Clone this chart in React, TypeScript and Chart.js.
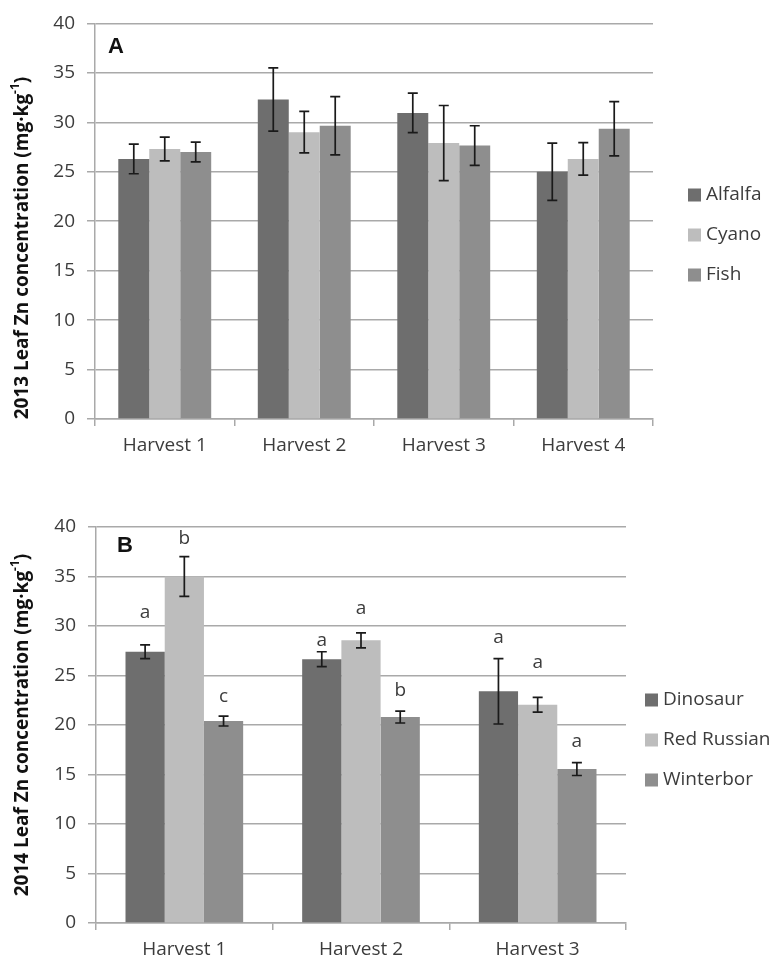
import React, { useEffect, useRef } from "react";
import { Chart, registerables } from "chart.js";

Chart.register(...registerables);

// ---------- Panel A (2013) ----------
const categoriesA = ["Harvest 1", "Harvest 2", "Harvest 3", "Harvest 4"];
const seriesNamesA = ["Alfalfa", "Cyano", "Fish"];
const alfalfaA = [26.3, 32.3, 30.95, 25.0];
const alfalfaErrA = [1.5, 3.2, 2.0, 2.9];
const cyanoA = [27.3, 29.0, 27.9, 26.3];
const cyanoErrA = [1.2, 2.1, 3.8, 1.65];
const fishA = [27.0, 29.65, 27.65, 29.35];
const fishErrA = [1.0, 2.95, 2.0, 2.75];

// ---------- Panel B (2014) ----------
const categoriesB = ["Harvest 1", "Harvest 2", "Harvest 3"];
const seriesNamesB = ["Dinosaur", "Red Russian", "Winterbor"];
const dinosaurB = [27.4, 26.65, 23.4];
const dinosaurErrB = [0.7, 0.75, 3.3];
const redRussianB = [35.0, 28.55, 22.05];
const redRussianErrB = [2.0, 0.75, 0.75];
const winterborB = [20.4, 20.8, 15.55];
const winterborErrB = [0.5, 0.6, 0.65];
const dinosaurLettersB = ["a", "a", "a"];
const redRussianLettersB = ["b", "a", "a"];
const winterborLettersB = ["c", "b", "a"];
// letter heights, in axis units
const dinosaurLetterAtB = [31.4, 28.5, 28.85];
const redRussianLetterAtB = [38.85, 31.8, 26.3];
const winterborLetterAtB = [22.9, 23.45, 18.3];

const yTickValues = [0, 5, 10, 15, 20, 25, 30, 35, 40];
const titleA = ["2013 Leaf Zn concentration (mg·kg", "-1", ")"];
const titleB = ["2014 Leaf Zn concentration (mg·kg", "-1", ")"];

const seriesColors = ["#6e6e6e", "#bdbdbd", "#8e8e8e"];
const FONT = "'Open Sans', 'Noto Sans', sans-serif";
const TEXT = "#3c3c3c";
const GRID = "#a9a9a9";

type Series = {
  name: string;
  values: number[];
  errors: number[];
  letters?: string[];
  letterAt?: number[];
};

type Panel = {
  id: string;
  label: string;
  categories: string[];
  series: Series[];
  title: string[];
  width: number;
  height: number;
  padTop: number;
  padRight: number;
  yWidth: number;
  xHeight: number;
  titleX: number;
  titleY: number;
  labelX: number;
  labelY: number;
  legendX: number;
  legendY: number;
};

function makePlugin(p: Panel) {
  return {
    id: "decor" + p.id,
    afterDatasetsDraw(chart: any) {
      const ctx = chart.ctx;
      const y = chart.scales.y;
      ctx.save();
      p.series.forEach((s, i) => {
        const meta = chart.getDatasetMeta(i);
        s.values.forEach((v, j) => {
          const el = meta.data[j];
          if (!el) return;
          const x = el.x;
          const e = s.errors[j];
          const top = y.getPixelForValue(v + e);
          const bot = y.getPixelForValue(v - e);
          ctx.strokeStyle = "#1a1a1a";
          ctx.lineWidth = 1.7;
          ctx.beginPath();
          ctx.moveTo(x, top);
          ctx.lineTo(x, bot);
          ctx.moveTo(x - 5, top);
          ctx.lineTo(x + 5, top);
          ctx.moveTo(x - 5, bot);
          ctx.lineTo(x + 5, bot);
          ctx.stroke();
          if (s.letters && s.letterAt) {
            ctx.fillStyle = TEXT;
            ctx.font = `19px ${FONT}`;
            ctx.textAlign = "center";
            ctx.textBaseline = "middle";
            ctx.fillText(s.letters[j], x, y.getPixelForValue(s.letterAt[j]));
          }
        });
      });
      ctx.restore();
    },
    afterDraw(chart: any) {
      const ctx = chart.ctx;
      ctx.save();
      // legend
      p.series.forEach((s, i) => {
        const cy = p.legendY + i * 40;
        ctx.fillStyle = seriesColors[i];
        ctx.fillRect(p.legendX, cy - 6.5, 13, 13);
        ctx.fillStyle = TEXT;
        ctx.font = `19px ${FONT}`;
        ctx.textAlign = "left";
        ctx.textBaseline = "middle";
        ctx.fillText(s.name, p.legendX + 18, cy);
      });
      // panel label
      ctx.fillStyle = "#111";
      ctx.font = `bold 22px 'Liberation Sans', Arial, sans-serif`;
      ctx.textAlign = "left";
      ctx.textBaseline = "middle";
      ctx.fillText(p.label, p.labelX, p.labelY);
      // rotated y-axis title with superscript
      ctx.translate(p.titleX, p.titleY);
      ctx.rotate(-Math.PI / 2);
      const mainFont = `bold 19px ${FONT}`;
      const supFont = `bold 12px ${FONT}`;
      ctx.font = mainFont;
      const w0 = ctx.measureText(p.title[0]).width;
      const w2 = ctx.measureText(p.title[2]).width;
      ctx.font = supFont;
      const w1 = ctx.measureText(p.title[1]).width;
      const total = w0 + w1 + w2;
      let x = -total / 2;
      ctx.fillStyle = "#111";
      ctx.textBaseline = "middle";
      ctx.font = mainFont;
      ctx.fillText(p.title[0], x, 0);
      x += w0;
      ctx.font = supFont;
      ctx.fillText(p.title[1], x, -7);
      x += w1;
      ctx.font = mainFont;
      ctx.fillText(p.title[2], x, 0);
      ctx.restore();
    },
  };
}

function buildConfig(p: Panel): any {
  return {
    type: "bar",
    data: {
      labels: p.categories,
      datasets: p.series.map((s, i) => ({
        label: s.name,
        data: s.values,
        backgroundColor: seriesColors[i],
        borderWidth: 0,
        categoryPercentage: 0.666,
        barPercentage: 1.0,
      })),
    },
    options: {
      responsive: false,
      animation: false,
      events: [],
      layout: { padding: { top: p.padTop, right: p.padRight, left: 0, bottom: 0 } },
      plugins: {
        legend: { display: false },
        tooltip: { enabled: false },
        title: { display: false },
      },
      scales: {
        x: {
          type: "category",
          grid: {
            display: true,
            drawOnChartArea: false,
            drawTicks: true,
            tickLength: 7,
            offset: true,
            color: GRID,
            lineWidth: 1.5,
          },
          border: { display: true, color: GRID, width: 1.5 },
          ticks: {
            color: TEXT,
            font: { family: FONT, size: 19 },
            padding: 8,
            maxRotation: 0,
          },
          afterFit(scale: any) {
            scale.height = p.xHeight;
          },
        },
        y: {
          min: 0,
          max: 40,
          afterBuildTicks(scale: any) {
            scale.ticks = yTickValues.map((v) => ({ value: v }));
          },
          grid: {
            color: GRID,
            lineWidth: 1.5,
            drawTicks: true,
            tickLength: 8,
          },
          border: { display: true, color: GRID, width: 1.5 },
          ticks: {
            color: TEXT,
            font: { family: FONT, size: 19 },
            padding: 12,
          },
          afterFit(scale: any) {
            scale.width = p.yWidth;
          },
        },
      },
    },
    plugins: [makePlugin(p)],
  };
}

const panelA: Panel = {
  id: "A",
  label: "A",
  categories: categoriesA,
  series: [
    { name: seriesNamesA[0], values: alfalfaA, errors: alfalfaErrA },
    { name: seriesNamesA[1], values: cyanoA, errors: cyanoErrA },
    { name: seriesNamesA[2], values: fishA, errors: fishErrA },
  ],
  title: titleA,
  width: 770,
  height: 470,
  padTop: 22,
  padRight: 117,
  yWidth: 95,
  xHeight: 51,
  titleX: 23,
  titleY: 248,
  labelX: 108,
  labelY: 47,
  legendX: 688,
  legendY: 195,
};

const panelB: Panel = {
  id: "B",
  label: "B",
  categories: categoriesB,
  series: [
    {
      name: seriesNamesB[0],
      values: dinosaurB,
      errors: dinosaurErrB,
      letters: dinosaurLettersB,
      letterAt: dinosaurLetterAtB,
    },
    {
      name: seriesNamesB[1],
      values: redRussianB,
      errors: redRussianErrB,
      letters: redRussianLettersB,
      letterAt: redRussianLetterAtB,
    },
    {
      name: seriesNamesB[2],
      values: winterborB,
      errors: winterborErrB,
      letters: winterborLettersB,
      letterAt: winterborLetterAtB,
    },
  ],
  title: titleB,
  width: 770,
  height: 491,
  padTop: 57,
  padRight: 144,
  yWidth: 96,
  xHeight: 38,
  titleX: 23,
  titleY: 255,
  labelX: 117,
  labelY: 76,
  legendX: 645,
  legendY: 230,
};

function PanelChart({ panel }: { panel: Panel }) {
  const ref = useRef<HTMLCanvasElement | null>(null);
  useEffect(() => {
    if (!ref.current) return;
    const chart = new Chart(ref.current, buildConfig(panel));
    return () => chart.destroy();
  }, [panel]);
  return (
    <canvas
      ref={ref}
      width={panel.width}
      height={panel.height}
      style={{ display: "block", width: panel.width, height: panel.height }}
    />
  );
}

export default function App() {
  return (
    <div
      style={{
        position: "absolute",
        left: 0,
        top: 0,
        width: 770,
        height: 961,
        background: "#ffffff",
      }}
    >
      <PanelChart panel={panelA} />
      <PanelChart panel={panelB} />
    </div>
  );
}
